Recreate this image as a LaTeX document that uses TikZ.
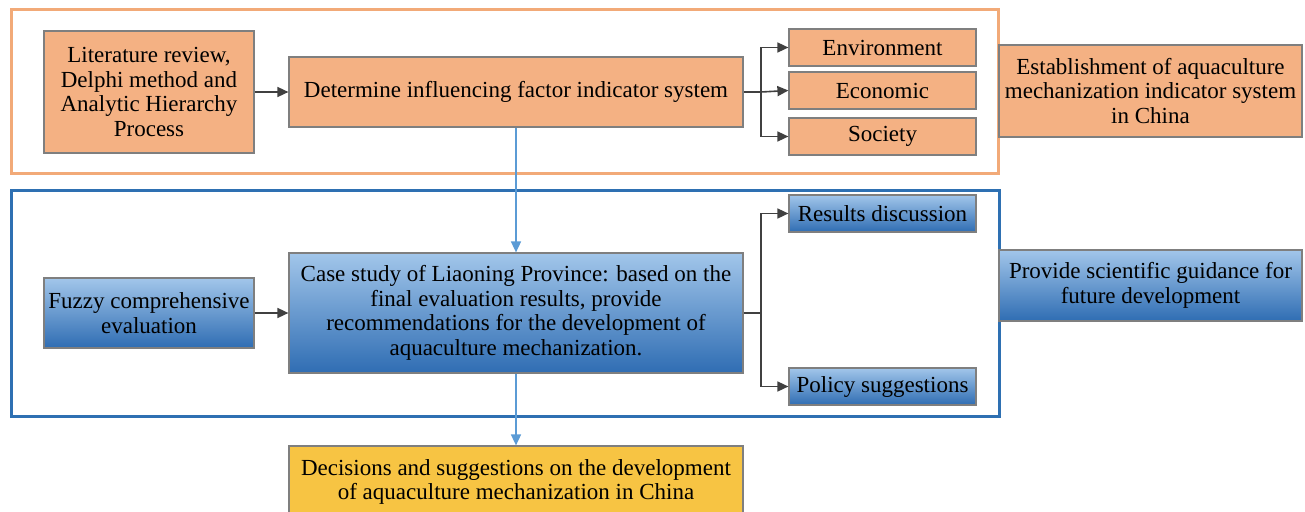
\documentclass[tikz,border=0pt]{standalone}
\usepackage{xcolor}
\usepackage{fontspec}
\setmainfont{Liberation Serif}
\usetikzlibrary{arrows.meta, positioning, calc}
\definecolor{aqorange}{HTML}{F4B183}
\definecolor{aqframe}{HTML}{F2AA78}
\definecolor{aqbluetop}{HTML}{A2C6EA}
\definecolor{aqbluebot}{HTML}{2F6DB3}
\definecolor{aqblueframe}{HTML}{2E70B2}
\definecolor{aqbluearrow}{HTML}{5B9BD5}
\definecolor{aqyellow}{HTML}{F7C443}
\definecolor{aqgray}{HTML}{7F7F7F}
\definecolor{aqdark}{HTML}{404040}

\begin{document}
\begin{tikzpicture}[
    x=1pt, y=-1pt,
    box/.style={rectangle, draw=aqgray, line width=1.2pt, inner sep=0pt,
                align=center, font=\fontsize{23}{24.5}\selectfont},
    obox/.style={box, fill=aqorange},
    bbox/.style={box, top color=aqbluetop, bottom color=aqbluebot},
    ybox/.style={box, fill=aqyellow},
    arrow/.style={-{Triangle[length=11pt, width=10pt]}, line width=1.6pt, color=aqdark},
    barrow/.style={-{Triangle[length=11pt, width=10pt]}, line width=1.6pt, color=aqbluearrow},
    frame/.style={line width=3pt}
]
\useasboundingbox (0,0) rectangle (1305,511);
\clip (0,0) rectangle (1305,511);

% frames
\draw[frame, color=aqframe] (11,10) rectangle (998,173);
\draw[frame, color=aqblueframe] (11,190) rectangle (999,416);

% upper part
\node[obox, minimum width=210, minimum height=122] (lit) at (149,92)
    {Literature review,\\Delphi method and\\Analytic Hierarchy\\Process};
\node[obox, minimum width=454, minimum height=70] (det) at (516,92)
    {Determine influencing factor indicator system};
\node[obox, minimum width=187, minimum height=37] (env) at (882.5,47.5) {Environment};
\node[obox, minimum width=187, minimum height=37] (eco) at (882.5,90.5) {Economic};
\node[obox, minimum width=187, minimum height=37] (soc) at (882.5,136.5) {Society};
\node[obox, minimum width=303, minimum height=92] (est) at (1150.5,91)
    {Establishment of aquaculture\\mechanization indicator system\\in China};

% lower part
\node[bbox, minimum width=210, minimum height=70] (fuz) at (149,313)
    {Fuzzy comprehensive\\evaluation};
\node[bbox, minimum width=454, minimum height=120] (case) at (516,313)
    {Case study of Liaoning Province: based on the\\final evaluation results, provide\\recommendations for the development of\\aquaculture mechanization.};
\node[bbox, minimum width=187, minimum height=37] (res) at (882.5,213.5) {Results discussion};
\node[bbox, minimum width=187, minimum height=37] (pol) at (882.5,386.5) {Policy suggestions};
\node[bbox, minimum width=303, minimum height=71] (pro) at (1150.5,285.5)
    {Provide scientific guidance for\\future development};

\node[ybox, minimum width=454, minimum height=72] (dec) at (516,482)
    {Decisions and suggestions on the development\\of aquaculture mechanization in China};

% connectors
\coordinate (fork1) at (761,92);
\coordinate (fork2) at (761,313);

\draw[arrow] (lit) -- (det);
\draw[line width=1.6pt, color=aqdark] (det.east) -- (fork1);
\draw[arrow] (fork1) |- (env.west);
\draw[arrow] (fork1) -- (eco.west);
\draw[arrow] (fork1) |- (soc.west);

\draw[arrow] (fuz) -- (case);
\draw[line width=1.6pt, color=aqdark] (case.east) -- (fork2);
\draw[arrow] (fork2) |- (res.west);
\draw[arrow] (fork2) |- (pol.west);

\draw[barrow] (det) -- (case);
\draw[barrow] (case) -- (dec);
\end{tikzpicture}
\end{document}
